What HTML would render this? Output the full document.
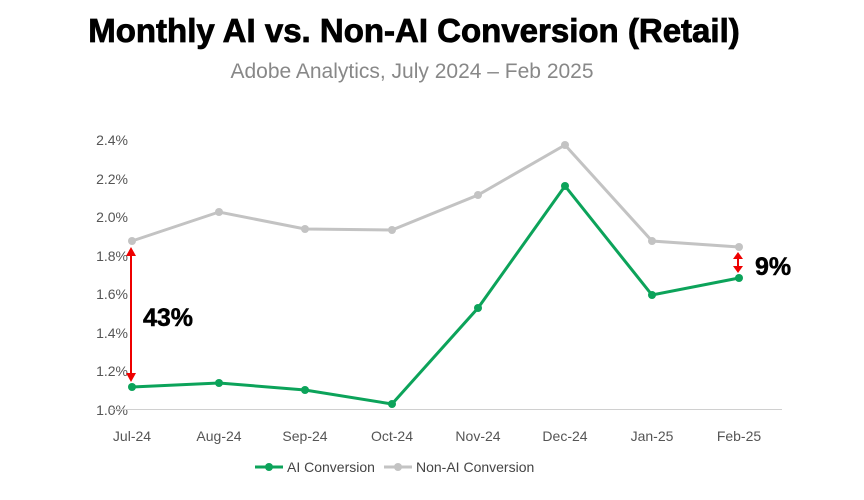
<!DOCTYPE html>
<html><head><meta charset="utf-8"><style>
body{margin:0;background:#fff;width:864px;height:495px;overflow:hidden;font-family:"Liberation Sans",sans-serif}
</style></head><body>
<svg width="864" height="495" xmlns="http://www.w3.org/2000/svg">
<text x="414" y="42" text-anchor="middle" font-family="Liberation Sans" font-weight="bold" font-size="33" fill="#000" stroke="#000" stroke-width="0.8">Monthly AI vs. Non-AI Conversion (Retail)</text>
<text x="412" y="78" text-anchor="middle" font-family="Liberation Sans" font-size="21" fill="#888">Adobe Analytics, July 2024 – Feb 2025</text>
<g font-family="Liberation Sans" font-size="14" fill="#555" text-anchor="end">
<text x="128" y="145">2.4%</text><text x="128" y="184">2.2%</text><text x="128" y="222">2.0%</text><text x="128" y="261">1.8%</text><text x="128" y="299">1.6%</text><text x="128" y="338">1.4%</text><text x="128" y="376">1.2%</text><text x="128" y="415">1.0%</text>
</g>
<line x1="110" y1="409.5" x2="782" y2="409.5" stroke="#d0d0d0" stroke-width="1"/>
<g font-family="Liberation Sans" font-size="14" fill="#555" text-anchor="middle">
<text x="132" y="441">Jul-24</text><text x="219" y="441">Aug-24</text><text x="305" y="441">Sep-24</text><text x="392" y="441">Oct-24</text><text x="478" y="441">Nov-24</text><text x="565" y="441">Dec-24</text><text x="652" y="441">Jan-25</text><text x="739" y="441">Feb-25</text>
</g>
<polyline fill="none" stroke="#c3c3c3" stroke-width="3" points="132,241 219,212 305,229 392,230 478,195 565,145 652,241 739,247"/>
<g fill="#c3c3c3"><circle cx="132" cy="241" r="4"/><circle cx="219" cy="212" r="4"/><circle cx="305" cy="229" r="4"/><circle cx="392" cy="230" r="4"/><circle cx="478" cy="195" r="4"/><circle cx="565" cy="145" r="4"/><circle cx="652" cy="241" r="4"/><circle cx="739" cy="247" r="4"/></g>
<polyline fill="none" stroke="#0ca35a" stroke-width="3" points="132,387 219,383 305,390 392,404 478,308 565,186 652,295 739,278"/>
<g fill="#0ca35a"><circle cx="132" cy="387" r="4"/><circle cx="219" cy="383" r="4"/><circle cx="305" cy="390" r="4"/><circle cx="392" cy="404" r="4"/><circle cx="478" cy="308" r="4"/><circle cx="565" cy="186" r="4"/><circle cx="652" cy="295" r="4"/><circle cx="739" cy="278" r="4"/></g>
<line x1="131" y1="252" x2="131" y2="376" stroke="#e00" stroke-width="2"/>
<polygon points="131,247 126,256 136,256" fill="#e00"/><polygon points="131,382 126,373 136,373" fill="#e00"/>
<line x1="738" y1="256" x2="738" y2="268" stroke="#e00" stroke-width="2"/>
<polygon points="738,252 733,259 743,259" fill="#e00"/><polygon points="738,273 733,266 743,266" fill="#e00"/>
<text x="143" y="326" font-family="Liberation Sans" font-weight="bold" font-size="25" fill="#000" stroke="#000" stroke-width="0.5">43%</text>
<text x="755" y="275" font-family="Liberation Sans" font-weight="bold" font-size="25" fill="#000" stroke="#000" stroke-width="0.5">9%</text>
<line x1="255" y1="467" x2="283" y2="467" stroke="#0ca35a" stroke-width="3"/><circle cx="269" cy="467" r="4" fill="#0ca35a"/>
<text x="287" y="472" font-family="Liberation Sans" font-size="14" fill="#444">AI Conversion</text>
<line x1="384" y1="467" x2="412" y2="467" stroke="#c3c3c3" stroke-width="3"/><circle cx="398" cy="467" r="4" fill="#c3c3c3"/>
<text x="416" y="472" font-family="Liberation Sans" font-size="14" fill="#444">Non-AI Conversion</text>
</svg>
</body></html>
